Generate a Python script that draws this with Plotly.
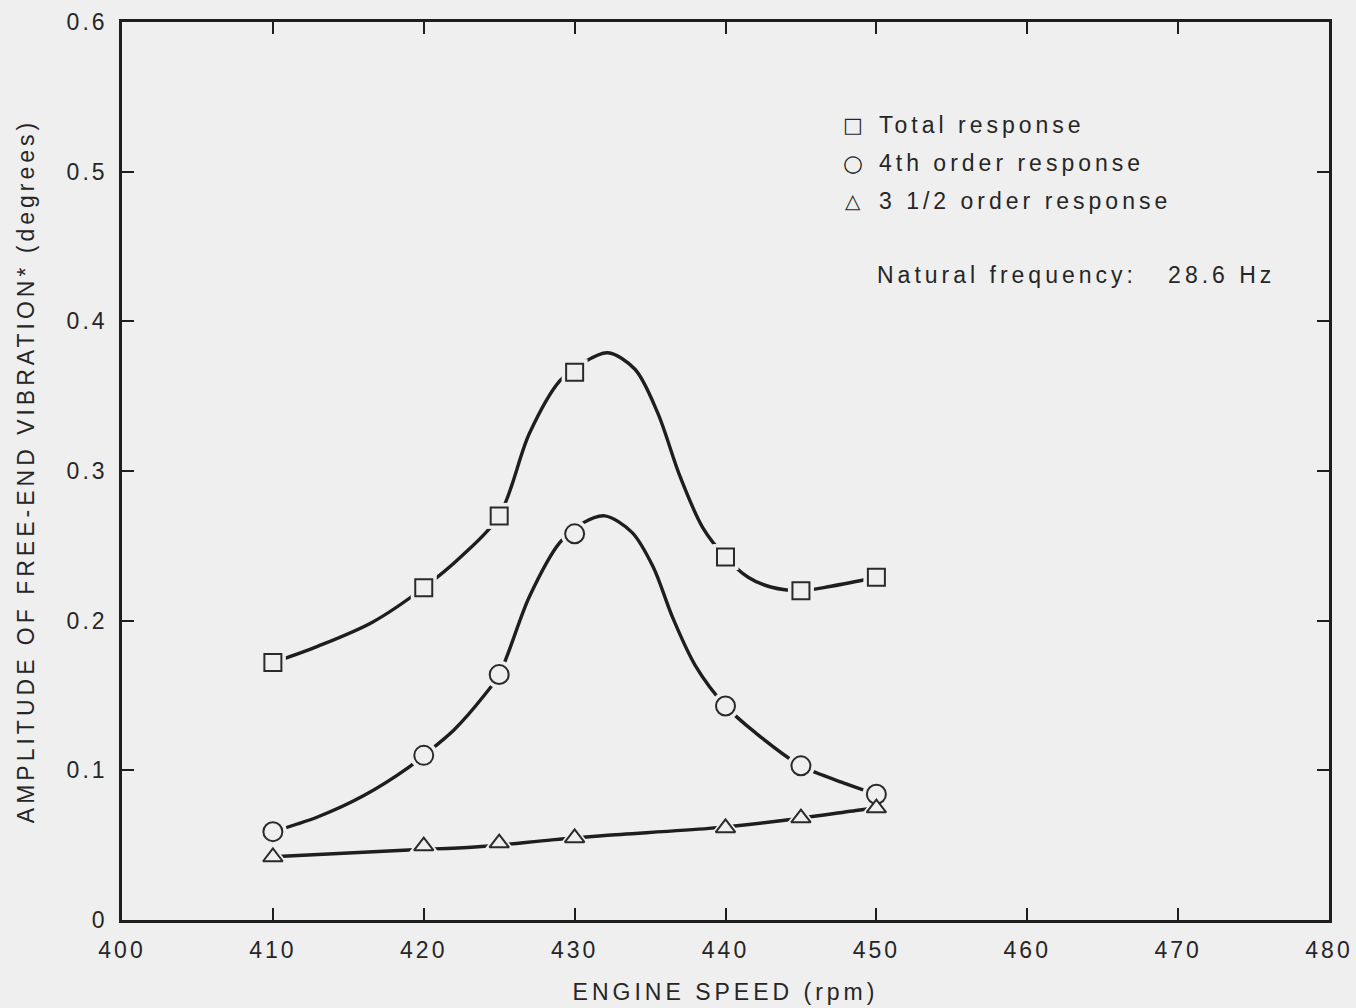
import plotly.graph_objects as go

# ---- data ----
speed = [410, 420, 425, 430, 440, 445, 450]
total_resp = [0.172, 0.222, 0.270, 0.366, 0.2425, 0.220, 0.229]
fourth_resp = [0.059, 0.110, 0.164, 0.258, 0.143, 0.103, 0.084]
three_half_resp = [0.0421, 0.0494, 0.0514, 0.0548, 0.0615, 0.0681, 0.0748]

# hand-drawn fitted curves
total_curve_x = [410, 413, 416.6, 420, 422.5, 425, 427, 429, 430.5, 432.2, 434, 435.5, 437,
                 438.5, 440, 441.5, 443, 445, 447, 450]
total_curve_y = [0.172, 0.183, 0.199, 0.222, 0.243, 0.270, 0.325, 0.360, 0.372, 0.379, 0.368,
                 0.339, 0.296, 0.262, 0.2425, 0.229, 0.2225, 0.220, 0.223, 0.229]
fourth_curve_x = [410, 413, 416, 419, 420, 422, 424, 425, 427, 429, 430.5, 432, 433.8, 435.2,
                  436.5, 438, 440, 442, 445, 448, 450]
fourth_curve_y = [0.059, 0.069, 0.083, 0.102, 0.110, 0.127, 0.150, 0.164, 0.216, 0.252, 0.265,
                  0.270, 0.259, 0.236, 0.202, 0.170, 0.143, 0.125, 0.103, 0.091, 0.084]
half_curve_x = [410, 419, 423.4, 428.5, 432, 438.9, 443.8, 448.9, 450]
half_curve_y = [0.0423, 0.0468, 0.0488, 0.0535, 0.0565, 0.0612, 0.0665, 0.0735, 0.0748]

x_ticks = [400, 410, 420, 430, 440, 450, 460, 470, 480]
y_ticks = [0, 0.1, 0.2, 0.3, 0.4, 0.5, 0.6]
y_tick_text = ["0", "0.1", "0.2", "0.3", "0.4", "0.5", "0.6"]

legend_labels = ["Total response", "4th order response", "3 1/2 order response"]
legend_symbols = ["\u25a1", "\u25cb", "\u25b3"]
note_text = "Natural frequency:\u00a0\u00a0 28.6 Hz"

BG = "#efefef"
INK = "#1e1e1e"
TXT = "#262626"
FONT = "Liberation Sans, Arial, sans-serif"

fig = go.Figure()

curves = [(total_curve_x, total_curve_y), (fourth_curve_x, fourth_curve_y),
          (half_curve_x, half_curve_y)]
for cx, cy in curves:
    fig.add_trace(go.Scatter(x=cx, y=cy, mode="lines",
                             line=dict(color=INK, width=3.4, shape="spline", smoothing=0.9),
                             hoverinfo="skip", showlegend=False))

series = [(total_resp, "square", 17), (fourth_resp, "circle", 19),
          (three_half_resp, "triangle-up", 17)]
# background halos produce the small gap between curve and symbol
for vals, sym, sz in series:
    fig.add_trace(go.Scatter(x=speed, y=vals, mode="markers",
                             marker=dict(symbol=sym, size=sz + 9, color=BG,
                                         line=dict(width=0)),
                             hoverinfo="skip", showlegend=False))
for (vals, sym, sz), name in zip(series, legend_labels):
    fig.add_trace(go.Scatter(x=speed, y=vals, mode="markers", name=name,
                             marker=dict(symbol=sym, size=sz, color=BG,
                                         line=dict(width=2, color="#2a2a2a")),
                             showlegend=False))

axis_common = dict(showline=True, linecolor=INK, linewidth=2.6, mirror="ticks",
                   ticks="inside", ticklen=12, tickwidth=2.4, tickcolor=INK,
                   showgrid=False, zeroline=False, automargin=False,
                   tickfont=dict(family=FONT, size=23, color=TXT))

fig.update_xaxes(range=[400, 480], tickvals=x_ticks, ticklabelstandoff=8,
                 title=dict(text="ENGINE SPEED (rpm)", standoff=22,
                            font=dict(family=FONT, size=23, color=TXT)),
                 **axis_common)
fig.update_yaxes(range=[0, 0.6], tickvals=y_ticks, ticktext=y_tick_text, ticklabelstandoff=7,
                 title=dict(text="AMPLITUDE OF FREE-END VIBRATION* (degrees)", standoff=35,
                            font=dict(family=FONT, size=23, color=TXT)),
                 **axis_common)

annotations = []
leg_y = [0.8853, 0.843, 0.8007]
sym_sizes = [21, 23, 20]
for lab, s, yy, ss in zip(legend_labels, legend_symbols, leg_y, sym_sizes):
    annotations.append(dict(text=s, x=0.6073, y=yy, xref="paper", yref="paper",
                            xanchor="center", yanchor="middle", showarrow=False,
                            font=dict(family="DejaVu Sans", size=ss, color=TXT)))
    annotations.append(dict(text=lab, x=0.6255, y=yy, xref="paper", yref="paper",
                            xanchor="left", align="left", yanchor="middle", showarrow=False,
                            font=dict(family=FONT, size=23, color=TXT)))
annotations.append(dict(text=note_text, x=0.6239, y=0.7183, xref="paper", yref="paper",
                        xanchor="left", align="left", yanchor="middle", showarrow=False,
                        font=dict(family=FONT, size=23, color=TXT)))

fig.update_layout(width=1356, height=1008,
                  margin=dict(l=122, r=27, t=22, b=88),
                  paper_bgcolor=BG, plot_bgcolor=BG,
                  annotations=annotations, showlegend=False)

post = """
document.body.style.margin = '0';
document.body.style.background = '#efefef';
var gd = document.getElementById('{plot_id}');
gd.querySelectorAll('.xtick text, .ytick text').forEach(function(t){ t.style.letterSpacing = '3px'; });
gd.querySelectorAll('.g-xtitle text, .g-ytitle text, .annotation-text').forEach(function(t){ t.style.letterSpacing = '4px'; });
"""
fig.write_html("out.html", post_script=post, config={"displayModeBar": False})
